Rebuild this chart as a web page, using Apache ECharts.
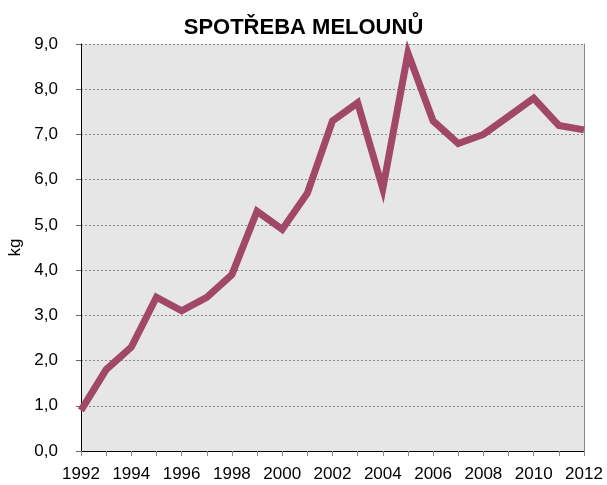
<!DOCTYPE html>
<html>
<head>
<meta charset="utf-8">
<script src="https://cdn.jsdelivr.net/npm/echarts@6/dist/echarts.min.js"></script>
<style>
  html, body { margin: 0; padding: 0; background: #fff; }
  #chart { width: 607px; height: 485px; }
</style>
</head>
<body>
<div id="chart"></div>
<script>
// roky
const years = ['1992', '1993', '1994', '1995', '1996', '1997', '1998', '1999', '2000', '2001',
  '2002', '2003', '2004', '2005', '2006', '2007', '2008', '2009', '2010', '2011', '2012']
// spotřeba melounů v kg na osobu
const consumption = [0.9, 1.8, 2.3, 3.4, 3.1, 3.4, 3.9, 5.3, 4.9, 5.7,
  7.3, 7.7, 5.8, 8.8, 7.3, 6.8, 7.0, 7.4, 7.8, 7.2, 7.1]

const font = 'Liberation Sans, Arial, sans-serif'
const chart = echarts.init(document.getElementById('chart'))

chart.setOption({
  animation: false,
  title: {
    text: 'SPOTŘEBA MELOUNŮ',
    left: 'center',
    top: 12,
    textStyle: { fontFamily: font, fontSize: 22, fontWeight: 'bold', color: '#000' }
  },
  grid: {
    left: 81,
    right: 23,
    top: 44,
    bottom: 34,
    outerBoundsMode: 'none',
    containLabel: false,
    show: true,
    backgroundColor: '#e6e6e6',
    borderWidth: 0
  },
  xAxis: {
    type: 'category',
    data: years,
    boundaryGap: false,
    axisLine: { lineStyle: { color: '#000', width: 1 } },
    axisTick: { show: true, interval: 0, length: 5, lineStyle: { color: '#888' } },
    axisLabel: { interval: 1, color: '#000', fontFamily: font, fontSize: 17, margin: 15 },
    splitLine: { show: false }
  },
  yAxis: [
    {
      type: 'value',
      min: 0,
      max: 9,
      interval: 1,
      name: 'kg',
      nameLocation: 'middle',
      nameGap: 55,
      nameTextStyle: { color: '#000', fontFamily: font, fontSize: 17 },
      axisLine: { show: true, lineStyle: { color: '#000', width: 1 } },
      axisTick: { show: true, length: 5, lineStyle: { color: '#666' } },
      axisLabel: {
        color: '#000',
        fontFamily: font,
        fontSize: 17,
        margin: 23,
        formatter: v => v.toFixed(1).replace('.', ',')
      },
      splitLine: { show: true, lineStyle: { color: '#8a8a8a', type: [2, 2], width: 1 } }
    },
    {
      type: 'value',
      min: 0,
      max: 9,
      interval: 1,
      position: 'right',
      axisLine: { show: true, lineStyle: { color: '#888', width: 1 } },
      axisTick: { show: false },
      axisLabel: { show: false },
      splitLine: { show: false }
    }
  ],
  series: [
    {
      type: 'line',
      data: consumption,
      symbol: 'none',
      lineStyle: { color: '#a14767', width: 7, join: 'miter', cap: 'butt' },
      itemStyle: { color: '#a14767' }
    }
  ]
})
</script>
</body>
</html>
